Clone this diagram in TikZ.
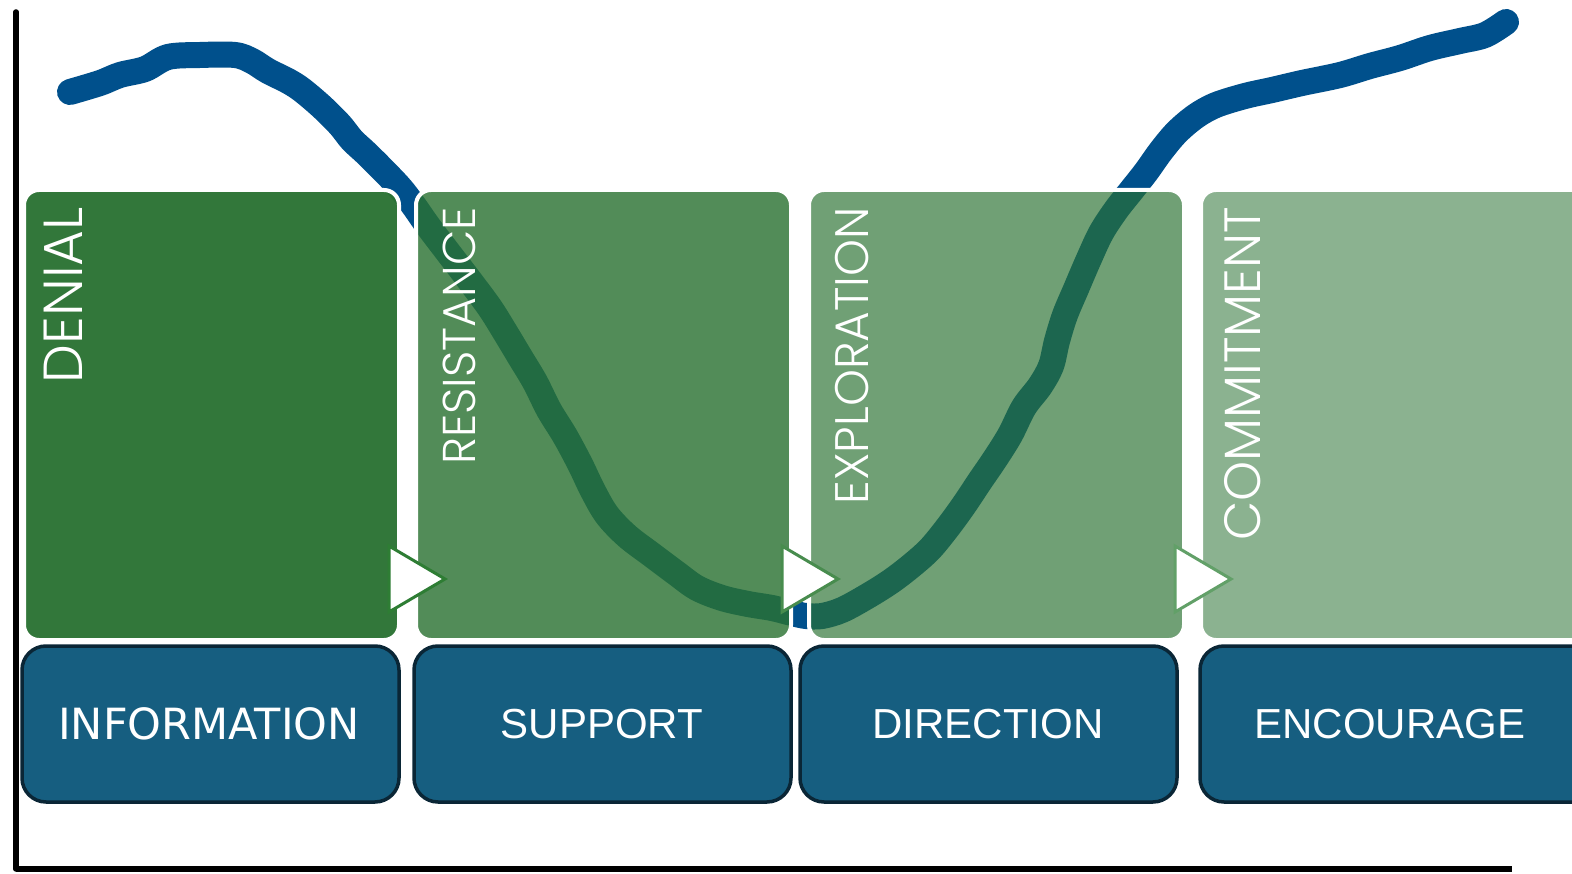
\documentclass[tikz,border=0pt]{standalone}
\usepackage{fontspec}
\setmainfont{Liberation Sans}
\newfontfamily\dvsans{DejaVu Sans}
\newfontfamily\thinfont{Poppins Light}
\definecolor{curveblue}{RGB}{0,80,140}
\definecolor{stagegreen}{RGB}{42,114,50}
\definecolor{actionblue}{RGB}{22,94,128}
\definecolor{actionedge}{RGB}{10,38,54}
\definecolor{tri1}{RGB}{46,125,52}
\definecolor{tri2}{RGB}{72,140,78}
\definecolor{tri3}{RGB}{98,160,104}
\tikzset{
  stagebox/.style={fill=stagegreen, draw=white, line width=4pt, rounded corners=15pt},
  actionbox/.style={fill=actionblue, draw=actionedge, line width=3.5pt, rounded corners=24pt},
  stagelabel/.style={text=white, inner sep=0pt, rotate=90, anchor=base east},
  actionlabel/.style={text=white, inner sep=0pt, font=\fontsize{42}{42}\selectfont},
  marker/.style={fill=white, line width=3pt, line join=miter},
  axisline/.style={draw=black, line width=5.5pt}
}
\newcommand\stagefont[1]{\thinfont\fontsize{#1}{#1}\selectfont}
\begin{document}
\begin{tikzpicture}[x=1pt,y=-1pt]
\useasboundingbox (0,0) rectangle (1572,874);
\fill[white] (0,0) rectangle (1572,874);

% change curve, drawn beneath the stage panels
\draw[curveblue, line width=26pt, line cap=round, line join=round]
  plot[smooth, tension=0.55] coordinates {
  (70,92) (100,83) (120,75) (145,69) (168,57) (200,55) (235,55) (252,61) (268,71)
  (288,81) (302,90) (322,107) (340,125) (352,140) (367,154) (386,173) (401,189)
  (414,206) (428,226) (447,251) (470,281) (490,308) (505,332) (520,357) (535,382)
  (549,410) (565,436) (580,464) (593,491) (607,515) (627,536) (652,555) (676,573)
  (697,588) (722,598) (748,604) (772,608) (792,613) (806,616) (822,616) (842,610)
  (866,597) (890,582) (911,566) (930,549) (948,527) (964,505) (980,481) (995,459)
  (1010,435) (1024,407) (1040,386) (1051,366) (1057,341) (1065,315) (1076,289)
  (1088,261) (1101,233) (1116,210) (1131,191) (1146,172) (1161,151) (1177,132)
  (1196,116) (1216,105) (1245,96) (1272,90) (1302,83) (1340,75) (1370,66)
  (1400,58) (1430,48) (1460,41) (1485,35) (1506,22)};

% stage panels
\path[stagebox, fill opacity=0.96] (24,190) rectangle (399,640);
\path[stagebox, fill opacity=0.81] (416,190) rectangle (791,640);
\path[stagebox, fill opacity=0.67] (809,190) rectangle (1184,640);
\path[stagebox, fill opacity=0.54] (1201,190) rectangle (1600,640);

% stage names
\node[stagelabel, font=\stagefont{55}] (denial) at (82,207) {DENIAL};
\node[stagelabel, font=\stagefont{46}] (resist) at (475,207) {RESISTANCE};
\node[stagelabel, font=\stagefont{47}] (explore) at (868,207) {EXPLORATION};
\node[stagelabel, font=\stagefont{51}] (commit) at (1260,207) {COMMITMENT};

% transition markers
\draw[marker, draw=tri1] (389,546) -- (389,612) -- (445,579) -- cycle;
\draw[marker, draw=tri2] (782,546) -- (782,612) -- (838,579) -- cycle;
\draw[marker, draw=tri3] (1175,546) -- (1175,612) -- (1231,579) -- cycle;

% action boxes
\path[actionbox] (22,646) rectangle (399,802);
\path[actionbox] (414,646) rectangle (791,802);
\path[actionbox] (800,646) rectangle (1177,802);
\path[actionbox] (1200,646) rectangle (1610,802);
\node[actionlabel, font=\dvsans\fontsize{43}{43}\selectfont] (info) at (209,724) {INFORMATION};
\node[actionlabel] (support) at (602,724) {SUPPORT};
\node[actionlabel] (direction) at (988,724) {DIRECTION};
\node[actionlabel] (encourage) at (1390,724) {ENCOURAGE};

% axes
\coordinate (origin) at (16,869);
\coordinate (ytop) at (16,12);
\coordinate (xend) at (1512,869);
\draw[axisline, line cap=round] (ytop) -- (origin);
\draw[axisline] (origin) -- (xend);
\end{tikzpicture}
\end{document}
